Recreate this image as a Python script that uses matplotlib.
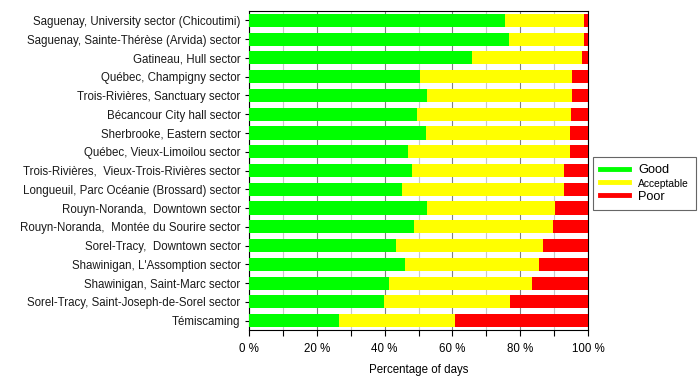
import matplotlib
matplotlib.use("Agg")
import matplotlib.pyplot as plt
from matplotlib.lines import Line2D
from matplotlib.ticker import MultipleLocator, FuncFormatter
import numpy as np

plt.rcParams['font.family'] = ['Liberation Sans', 'DejaVu Sans']

stations = [
    "Saguenay, University sector (Chicoutimi)",
    "Saguenay, Sainte-Thérèse (Arvida) sector",
    "Gatineau, Hull sector",
    "Québec, Champigny sector",
    "Trois-Rivières, Sanctuary sector",
    "Bécancour City hall sector",
    "Sherbrooke, Eastern sector",
    "Québec, Vieux-Limoilou sector",
    "Trois-Rivières,  Vieux-Trois-Rivières sector",
    "Longueuil, Parc Océanie (Brossard) sector",
    "Rouyn-Noranda,  Downtown sector",
    "Rouyn-Noranda,  Montée du Sourire sector",
    "Sorel-Tracy,  Downtown sector",
    "Shawinigan, L'Assomption sector",
    "Shawinigan, Saint-Marc sector",
    "Sorel-Tracy, Saint-Joseph-de-Sorel sector",
    "Témiscaming",
]
good = [75.6, 76.6, 65.8, 50.5, 52.6, 49.6, 52.1, 46.8, 48.0, 45.0, 52.6, 48.6, 43.4, 46.0, 41.4, 39.8, 26.5]
acceptable = [23.3, 22.3, 32.5, 44.8, 42.7, 45.5, 42.7, 48.0, 44.8, 47.8, 37.8, 41.2, 43.2, 39.4, 42.2, 37.2, 34.3]
poor = [1.1, 1.1, 1.7, 4.7, 4.7, 4.9, 5.2, 5.2, 7.2, 7.2, 9.6, 10.2, 13.4, 14.6, 16.4, 23.0, 39.2]
xticks = [0, 20, 40, 60, 80, 100]

fig = plt.figure(figsize=(7.0, 3.79), dpi=100)
ax = fig.add_axes([249/700, 1-330/379, (588-249)/700, (330-11)/379])

y = np.arange(len(stations))
h = 0.7
ax.barh(y, good, height=h, color='#00ff00', zorder=3)
ax.barh(y, acceptable, left=good, height=h, color='#ffff00', zorder=3)
ax.barh(y, poor, left=np.array(good) + np.array(acceptable), height=h, color='#ff0000', zorder=3)

ax.set_xlim(0, 100)
ax.set_ylim(len(stations) - 0.5, -0.5)
ax.set_yticks(y)
ax.set_yticklabels(stations, fontsize=8.3, color='#1a1a1a')
ax.set_xticks(xticks)
ax.xaxis.set_major_formatter(FuncFormatter(lambda v, p: f"{int(v)} %"))
ax.xaxis.set_minor_locator(MultipleLocator(10))
ax.tick_params(axis='x', which='major', labelsize=8.3, length=4, width=0.8, pad=5)
ax.tick_params(axis='x', which='minor', length=4, width=0.8)
ax.tick_params(axis='y', length=3, width=0.8, pad=3)
ax.grid(axis='x', which='major', color='#808080', linewidth=0.8, zorder=0)
ax.grid(axis='x', which='minor', color='#c8c8c8', linewidth=0.8, zorder=0)
ax.set_axisbelow(True)
for s in ax.spines.values():
    s.set_linewidth(0.8)
    s.set_color('#000000')
ax.set_xlabel("Percentage of days", fontsize=8.3, labelpad=7)

handles = [Line2D([0], [0], color='#00ff00', lw=3.5),
           Line2D([0], [0], color='#ffff00', lw=3.5),
           Line2D([0], [0], color='#ff0000', lw=3.5)]
leg = fig.legend(handles, ["Good", "Acceptable", "Poor"], loc='upper left',
                 bbox_to_anchor=(593/700, 1-157/379), frameon=True, fancybox=False,
                 edgecolor='#404040', fontsize=9.2, handlelength=2.3, borderpad=0.55,
                 labelspacing=0.15, handletextpad=0.7, borderaxespad=0)
leg.get_frame().set_linewidth(0.8)
leg.get_texts()[1].set_fontsize(7.4)

fig.savefig("out.png", dpi=100)
